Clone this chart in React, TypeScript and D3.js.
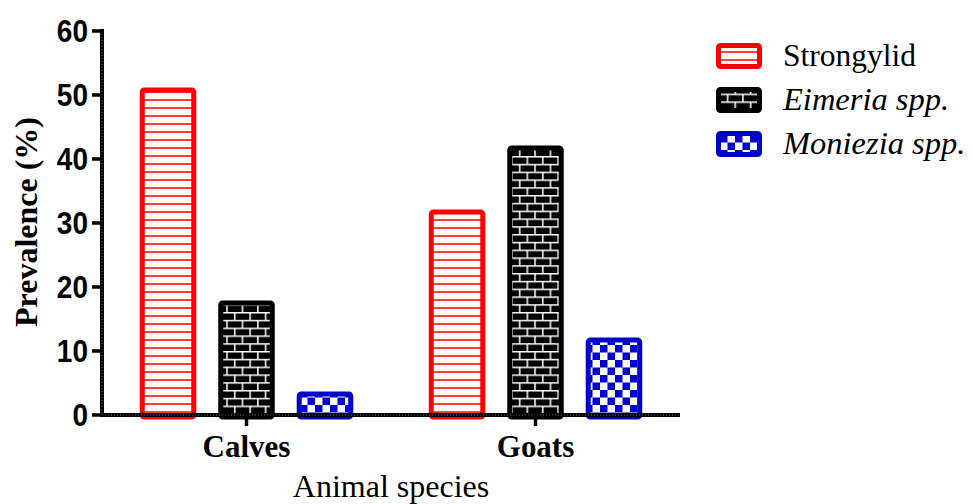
import React from "react";
import * as d3 from "d3";

const categories = ["Calves", "Goats"];
const seriesNames = ["Strongylid", "Eimeria spp.", "Moniezia spp."];
const strongylid = [50.8, 31.7];
const eimeria = [17.5, 41.7];
const moniezia = [3.3, 11.7];
const yTicks = [0, 10, 20, 30, 40, 50, 60];

const seriesValues = [strongylid, eimeria, moniezia];
const seriesColors = ["#ff0000", "#000000", "#0000cc"];
const seriesPatterns = ["pStripe", "pBrick", "pCheck"];
const seriesItalic = [false, true, true];

const W = 973;
const H = 504;
const x0 = 102;
const x1 = 680;
const yBase = 415;
const yTop = 31;
const SW = 5;

export default function App() {
  const x = d3.scaleBand<string>().domain(categories).range([x0, x1]).paddingInner(0).paddingOuter(0);
  const xs = d3
    .scaleBand<string>()
    .domain(seriesNames)
    .range([0, x.bandwidth()])
    .paddingInner(0.28)
    .paddingOuter(0.481);
  const y = d3.scaleLinear().domain([0, 60]).range([yBase, yTop]);

  return (
    <div style={{ position: "absolute", left: 0, top: 0 }}>
      <svg width={W} height={H} style={{ display: "block", background: "#fff" }}>
        <defs>
          <pattern id="pStripe" patternUnits="userSpaceOnUse" width={8} height={8}>
            <rect width={8} height={8} fill="#fff" />
            <rect y={3.3} width={8} height={1.5} fill="#ff0000" />
          </pattern>
          <pattern id="pBrick" patternUnits="userSpaceOnUse" width={15.4} height={15.6}>
            <rect width={15.4} height={15.6} fill="#000" />
            <rect y={0} width={15.4} height={1.5} fill="#fff" />
            <rect y={7.8} width={15.4} height={1.5} fill="#fff" />
            <rect x={3} y={0} width={1.5} height={7.8} fill="#fff" />
            <rect x={10.7} y={7.8} width={1.5} height={7.8} fill="#fff" />
          </pattern>
          <pattern id="pCheck" patternUnits="userSpaceOnUse" width={15} height={15}>
            <rect width={15} height={15} fill="#fff" />
            <rect x={0} y={0} width={7.5} height={7.5} fill="#0000cc" />
            <rect x={7.5} y={7.5} width={7.5} height={7.5} fill="#0000cc" />
          </pattern>
        </defs>

        {/* bars */}
        {categories.map((c, ci) => (
          <g key={c}>
            {seriesNames.map((s, si) => {
              const bx = (x(c) as number) + (xs(s) as number);
              const bw = xs.bandwidth();
              const top = y(seriesValues[si][ci]);
              return (
                <rect
                  key={s}
                  x={bx + SW / 2}
                  y={top}
                  width={bw - SW}
                  height={yBase - top + 2}
                  rx={2}
                  fill={`url(#${seriesPatterns[si]})`}
                  stroke={seriesColors[si]}
                  strokeWidth={SW}
                />
              );
            })}
          </g>
        ))}

        {/* y axis */}
        <line x1={x0} y1={yTop - 2} x2={x0} y2={yBase + 2} stroke="#000" strokeWidth={4} />
        <line x1={x0} y1={yTop} x2={x0} y2={yBase} stroke="#666" strokeWidth={1} strokeDasharray="1,2" />
        {yTicks.map((t) => (
          <g key={t}>
            <line x1={x0 - 10} x2={x0} y1={y(t)} y2={y(t)} stroke="#000" strokeWidth={3.5} />
            <text
              transform={`translate(88, ${y(t)}) scale(1, 1.1)`}
              dy="0.36em"
              textAnchor="end"
              fontFamily="'Liberation Sans', Arial, sans-serif"
              fontWeight="bold"
              fontSize={28}
            >
              {t}
            </text>
          </g>
        ))}

        {/* x axis */}
        <line x1={x0 - 2} y1={yBase} x2={x1} y2={yBase} stroke="#000" strokeWidth={4} />
        <line x1={x0} y1={yBase} x2={x1} y2={yBase} stroke="#666" strokeWidth={1} strokeDasharray="1,2" />
        {categories.map((c) => {
          const cx = (x(c) as number) + x.bandwidth() / 2;
          return (
            <g key={c}>
              <line x1={cx} x2={cx} y1={yBase} y2={yBase + 11} stroke="#000" strokeWidth={3.5} />
              <text
                transform={`translate(${cx}, 457) scale(1, 1.05)`}
                textAnchor="middle"
                fontFamily="'Liberation Serif', 'Times New Roman', serif"
                fontWeight="bold"
                fontSize={31}
              >
                {c}
              </text>
            </g>
          );
        })}

        <text
          x={(x0 + x1) / 2}
          y={497}
          textAnchor="middle"
          fontFamily="'Liberation Serif', 'Times New Roman', serif"
          fontSize={32}
        >
          Animal species
        </text>

        <text
          transform={`translate(37, 222) rotate(-90)`}
          textAnchor="middle"
          fontFamily="'Liberation Serif', 'Times New Roman', serif"
          fontWeight="bold"
          fontSize={32}
        >
          Prevalence (%)
        </text>

        {/* legend */}
        {seriesNames.map((s, si) => {
          const ly = 43 + si * 44;
          return (
            <g key={s}>
              <rect
                x={716 + SW / 2}
                y={ly + SW / 2}
                width={46 - SW}
                height={26 - SW}
                rx={2}
                fill={`url(#${seriesPatterns[si]})`}
                stroke={seriesColors[si]}
                strokeWidth={SW}
              />
              <text
                x={783}
                y={ly + 23}
                fontFamily="'Liberation Serif', 'Times New Roman', serif"
                fontStyle={seriesItalic[si] ? "italic" : "normal"}
                fontSize={seriesItalic[si] ? 32.5 : 31.5}
              >
                {s}
              </text>
            </g>
          );
        })}
      </svg>
    </div>
  );
}
